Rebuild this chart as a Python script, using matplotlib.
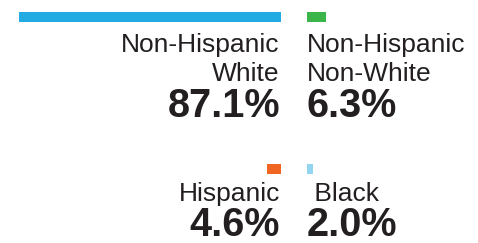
import matplotlib
matplotlib.use("Agg")
from matplotlib import pyplot as plt

# dados
grupos = ["Non-Hispanic\nWhite", "Non-Hispanic\nNon-White", "Hispanic", " Black"]
valores = [87.1, 6.3, 4.6, 2.0]
cores = ["#22ABE2", "#3BB54A", "#F16522", "#92D5F0"]
lado = ["esq", "dir", "esq", "dir"]
linha = [0, 0, 1, 1]

W, H = 478, 243
px = 262 / 87.1  # pixels por ponto percentual
cinza = "#231F20"

fig = plt.figure(figsize=(W / 100, H / 100), dpi=100)

# eixo da esquerda: barras crescem para a esquerda a partir de x=281
x_esq, x_dir = 281, 307
axE = fig.add_axes([0, 0, x_esq / W, 1])
axE.set_xlim(x_esq / px, 0)
axD = fig.add_axes([x_dir / W, 0, (W - x_dir) / W, 1])
axD.set_xlim(0, (W - x_dir) / px)
for ax in (axE, axD):
    ax.set_ylim(H, 0)
    ax.axis("off")

barra_y = [17, 169]      # centro das barras (px)
rotulo_y = [81, 201]     # linha de base da última linha do rótulo
pct_y = [117, 236]       # linha de base do percentual

for g, v, c, s, r in zip(grupos, valores, cores, lado, linha):
    ax = axE if s == "esq" else axD
    ha = "right" if s == "esq" else "left"
    dx = 0.4 if s == "esq" else 0
    ax.barh(barra_y[r], v, height=10, color=c, left=0)
    ax.text(dx, rotulo_y[r], g, ha=ha, va="baseline", fontsize=19,
            family="Liberation Sans", color=cinza, linespacing=1.28,
            multialignment=ha)
    ax.text(dx, pct_y[r], f"{v:.1f}%", ha=ha, va="baseline", fontsize=28.5,
            family="Liberation Sans", fontweight="bold", color=cinza)

plt.savefig("out.png", dpi=100)
